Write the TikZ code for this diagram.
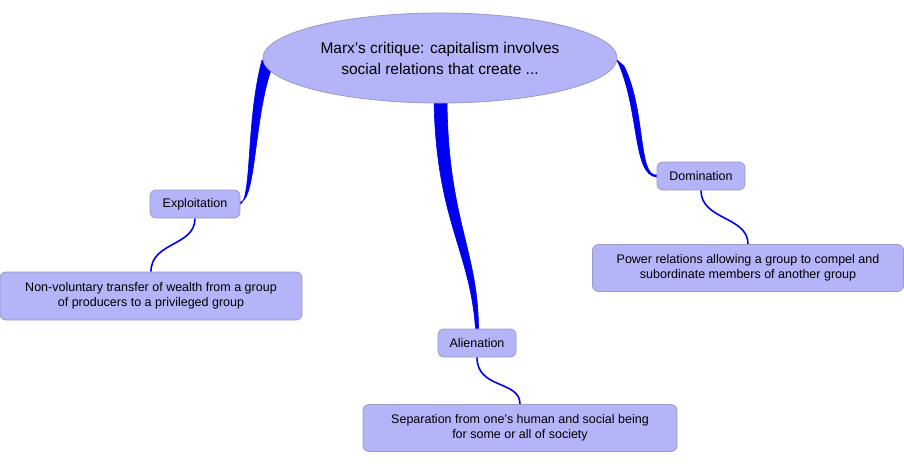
\documentclass[tikz,border=0pt]{standalone}
\usepackage{fontspec}
\setmainfont{Liberation Sans}
\usetikzlibrary{shapes.geometric,calc,backgrounds}
\definecolor{nodefill}{HTML}{B4B4F8}
\definecolor{nodeline}{HTML}{9A9AC8}
\definecolor{linkblue}{HTML}{0000F0}
\begin{document}
\begin{tikzpicture}[x=1pt,y=-1pt,
  box/.style={draw=nodeline,fill=nodefill,rounded corners=6pt,line width=0.8pt,font=\fontsize{12.5}{15}\selectfont,align=center,inner sep=0pt},
  thin/.style={draw=linkblue,line width=1.6pt},
  thick/.style={fill=linkblue,draw=linkblue,line width=0.6pt}]
\useasboundingbox (0,0) rectangle (904,475);
\node[ellipse,draw=nodeline,fill=nodefill,line width=0.8pt,minimum width=354pt,minimum height=90pt,inner sep=0pt,align=center,font=\fontsize{15.5}{21}\selectfont] (root) at (440,58) {Marx's critique: capitalism involves\\social relations that create ...};
\node[box,minimum width=90pt,minimum height=28pt] (expl) at (195,204) {Exploitation};
\node[box,minimum width=302pt,minimum height=48pt] (nonv) at (151,296) {Non-voluntary transfer of wealth from a group\\of producers to a privileged group};
\node[box,minimum width=78pt,minimum height=28pt] (alie) at (477,343) {Alienation};
\node[box,minimum width=314pt,minimum height=47pt] (sepa) at (520,428) {Separation from one's human and social being\\for some or all of society};
\node[box,minimum width=88pt,minimum height=28pt] (domi) at (701,176) {Domination};
\node[box,minimum width=311pt,minimum height=47pt] (powr) at (748,268) {Power relations allowing a group to compel and\\subordinate members of another group};
\begin{scope}[on background layer]
\path[thick] (262,60) .. controls (246,120) and (252,198) .. (expl.east) -- ([yshift=2pt]expl.east) .. controls (256,200) and (254,120) .. (271,70) -- cycle;
\path[thick] (434,100) .. controls (436,220) and (470,250) .. ([xshift=-1.5pt]alie.north) -- ([xshift=1.5pt]alie.north) .. controls (478,250) and (448,220) .. (447,100) -- cycle;
\path[thick] (617,60) .. controls (640,110) and (632,175) .. ([yshift=-1pt]domi.west) -- ([yshift=1pt]domi.west) .. controls (638,177) and (646,110) .. (624,66) -- cycle;
\draw[thin] (expl.south) .. controls +(0,28) and +(0,-30) .. (nonv.north);
\draw[thin] (alie.south) .. controls +(0,32) and +(0,-24) .. (sepa.north);
\draw[thin] (domi.south) .. controls +(0,30) and +(0,-28) .. (powr.north);
\end{scope}
\end{tikzpicture}
\end{document}
